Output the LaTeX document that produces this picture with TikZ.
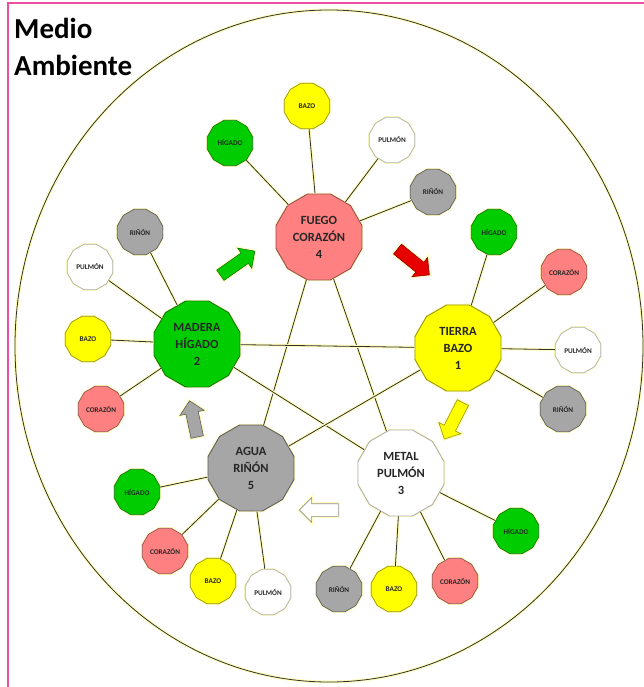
\documentclass[tikz,border=0pt]{standalone}
\usepackage{fontspec}
\setmainfont{Carlito}
\usetikzlibrary{shapes.geometric,shapes.arrows}
\definecolor{frame}{RGB}{236,80,160}
\definecolor{glow}{RGB}{255,252,190}
\definecolor{linkc}{RGB}{50,50,40}
\definecolor{cgreen}{RGB}{0,205,0}
\definecolor{cgreenD}{RGB}{20,120,20}
\definecolor{cpink}{RGB}{255,128,128}
\definecolor{cpinkD}{RGB}{150,80,80}
\definecolor{cyellow}{RGB}{255,255,0}
\definecolor{cyellowD}{RGB}{150,150,20}
\definecolor{cgray}{RGB}{166,166,166}
\definecolor{cgrayD}{RGB}{95,95,95}
\definecolor{cwhite}{RGB}{255,255,255}
\definecolor{cwhiteD}{RGB}{175,175,175}
\definecolor{cred}{RGB}{230,0,0}
\definecolor{credD}{RGB}{150,0,0}
\begin{document}
\begin{tikzpicture}[x=1pt,y=-1pt,
  link/.style={draw=linkc, line width=0.8pt, preaction={draw=glow, line width=3pt}},
  poly/.style={regular polygon, regular polygon sides=12, inner sep=0pt,
    preaction={draw=glow, line width=2.5pt}},
  mainbox/.style={poly, minimum size=89pt, line width=0.9pt, align=center,
    text=black!85, font=\fontsize{12.5}{17}\selectfont\bfseries},
  satbox/.style={poly, minimum size=47pt, line width=0.7pt,
    text=black!85, font=\fontsize{7.2}{8}\selectfont\bfseries},
  green/.style={fill=cgreen, draw=cgreenD},
  pink/.style={fill=cpink, draw=cpinkD},
  yel/.style={fill=cyellow, draw=cyellowD},
  gry/.style={fill=cgray, draw=cgrayD},
  wht/.style={fill=cwhite, draw=cwhiteD},
  flow/.style={single arrow, minimum height=#1, inner sep=6pt,
    single arrow head extend=6pt, line width=0.6pt,
    preaction={draw=glow, line width=3pt}},
  title/.style={anchor=base west, inner sep=0pt, text=black,
    font=\fontsize{29}{37}\selectfont\bfseries}
]
\useasboundingbox (0,0) rectangle (644,687);

% page frame
\draw[frame, line width=2.2pt] (8,690) -- (8,3) -- (646,3);

% surrounding ellipse
\draw[link] (329,346) ellipse [x radius=314, y radius=336];

% heading
\node[title] (title1) at (14,39) {Medio};
\node[title] (title2) at (14,76) {Ambiente};

% the five elements
\node[mainbox, pink] (fuego)  at (319,237) {FUEGO\\CORAZÓN\\4};
\node[mainbox, green] (madera) at (197,344) {MADERA\\HÍGADO\\2};
\node[mainbox, yel] (tierra) at (458,348) {TIERRA\\BAZO\\1};
\node[mainbox, wht] (metal)  at (401,473) {METAL\\PULMÓN\\3};
\node[mainbox, gry] (agua)   at (251,468) {AGUA\\RIÑÓN\\5};

% organs around each element
\node[satbox, green] (fH) at (230,143) {HÍGADO};
\node[satbox, yel]   (fB) at (307,106) {BAZO};
\node[satbox, wht]   (fP) at (392,140) {PULMÓN};
\node[satbox, gry]   (fR) at (433,192) {RIÑÓN};

\node[satbox, gry]   (mR) at (140,232) {RIÑÓN};
\node[satbox, wht]   (mP) at (90,267)  {PULMÓN};
\node[satbox, yel]   (mB) at (88,339)  {BAZO};
\node[satbox, pink]  (mC) at (101,409) {CORAZÓN};

\node[satbox, green] (tH) at (494,232) {HÍGADO};
\node[satbox, pink]  (tC) at (564,272) {CORAZÓN};
\node[satbox, wht]   (tP) at (578,350) {PULMÓN};
\node[satbox, gry]   (tR) at (563,409) {RIÑÓN};

\node[satbox, green] (eH) at (516,531) {HÍGADO};
\node[satbox, pink]  (eC) at (455,581) {CORAZÓN};
\node[satbox, yel]   (eB) at (394,589) {BAZO};
\node[satbox, gry]   (eR) at (339,589) {RIÑÓN};

\node[satbox, green] (aH) at (137,492) {HÍGADO};
\node[satbox, pink]  (aC) at (165,551) {CORAZÓN};
\node[satbox, yel]   (aB) at (213,581) {BAZO};
\node[satbox, wht]   (aP) at (268,592) {PULMÓN};

% spokes
\foreach \s in {fH,fB,fP,fR} \draw[link] (fuego) -- (\s);
\foreach \s in {mR,mP,mB,mC} \draw[link] (madera) -- (\s);
\foreach \s in {tH,tC,tP,tR} \draw[link] (tierra) -- (\s);
\foreach \s in {eH,eC,eB,eR} \draw[link] (metal) -- (\s);
\foreach \s in {aH,aC,aB,aP} \draw[link] (agua) -- (\s);

% control star
\draw[link] (fuego) -- (metal);
\draw[link] (fuego) -- (agua);
\draw[link] (madera) -- (tierra);
\draw[link] (madera) -- (metal);
\draw[link] (tierra) -- (agua);

% generation cycle
\node[flow=42pt, green, rotate=35]   (g1) at (235,265) {};
\node[flow=41pt, fill=cred, draw=credD, rotate=-39] (g2) at (411,260) {};
\node[flow=41pt, yel, rotate=-117]   (g3) at (455,418) {};
\node[flow=39pt, wht, draw=cgrayD!70, rotate=180] (g4) at (322,510) {};
\node[flow=37pt, gry, rotate=102]    (g5) at (194,422) {};
\end{tikzpicture}
\end{document}
